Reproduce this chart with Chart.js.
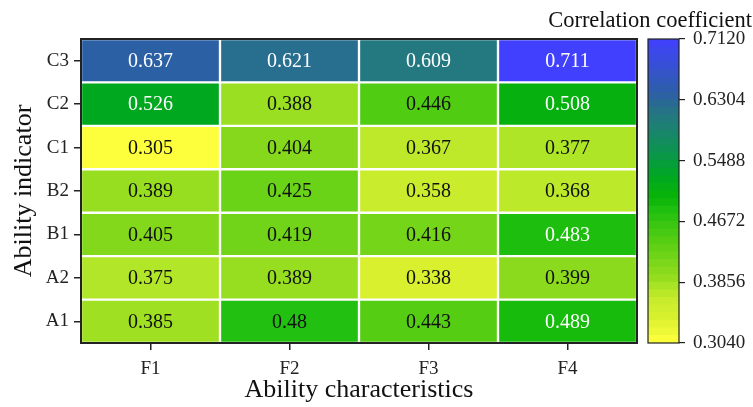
<!DOCTYPE html>
<html>
<head>
<meta charset="utf-8">
<script src="https://cdn.jsdelivr.net/npm/chart.js@4.4.1/dist/chart.umd.min.js"></script>
<style>
html,body{margin:0;padding:0;background:#fff;}
#wrap{position:relative;width:753px;height:407px;}
#main{position:absolute;left:0;top:0;}
#cbar{position:absolute;left:600px;top:0;}
</style>
</head>
<body>
<div id="wrap">
<canvas id="main" width="753" height="407"></canvas>
<canvas id="cbar" width="153" height="407"></canvas>
</div>
<script>
// ---- data ----
const rowLabels = ['A1','A2','B1','B2','C1','C2','C3'];
const colLabels = ['F1','F2','F3','F4'];
const rowA1 = [0.385, 0.48, 0.443, 0.489];
const rowA2 = [0.375, 0.389, 0.338, 0.399];
const rowB1 = [0.405, 0.419, 0.416, 0.483];
const rowB2 = [0.389, 0.425, 0.358, 0.368];
const rowC1 = [0.305, 0.404, 0.367, 0.377];
const rowC2 = [0.526, 0.388, 0.446, 0.508];
const rowC3 = [0.637, 0.621, 0.609, 0.711];
const rowValues = [rowA1, rowA2, rowB1, rowB2, rowC1, rowC2, rowC3];
const cbarMin = 0.304;
const cbarMax = 0.712;
const cbarTicks = [0.3040, 0.3856, 0.4672, 0.5488, 0.6304, 0.7120];
const cbarTitle = 'Correlation coefficient';
const xTitle = 'Ability characteristics';
const yTitle = 'Ability indicator';

// ---- colour map ----
const stops = [
  [0.304,'#ffff3c'],[0.338,'#d8f02e'],[0.360,'#c8ec2c'],[0.375,'#b2e628'],
  [0.389,'#98de20'],[0.405,'#84d81c'],[0.420,'#70d418'],[0.446,'#50cc12'],
  [0.480,'#22c010'],[0.500,'#08b408'],[0.526,'#00a820'],[0.560,'#0c9450'],
  [0.609,'#247880'],[0.637,'#2c60a4'],[0.712,'#4040ff']
];
function hex2rgb(h){return [1,3,5].map(i=>parseInt(h.substr(i,2),16));}
function cmap(v){
  if(v<=stops[0][0]) return stops[0][1];
  for(let i=1;i<stops.length;i++){
    if(v<=stops[i][0]){
      const [a,ca]=stops[i-1],[b,cb]=stops[i];
      const t=(v-a)/(b-a), A=hex2rgb(ca), B=hex2rgb(cb);
      const c=A.map((x,k)=>Math.round(x+(B[k]-x)*t));
      return `rgb(${c[0]},${c[1]},${c[2]})`;
    }
  }
  return stops[stops.length-1][1];
}

const SERIF = "'Liberation Serif','Times New Roman',serif";
const DARK = '#222';

const datasets = rowValues.map((vals, r) => ({
  label: rowLabels[r],
  data: vals.map(() => [r - 0.5, r + 0.5]),
  backgroundColor: vals.map(cmap),
  borderColor: '#ffffff',
  borderWidth: 1.5,
  borderSkipped: false,
  barPercentage: 1,
  categoryPercentage: 1,
  grouped: false
}));

const cellText = {
  id: 'cellText',
  afterDatasetsDraw(chart){
    const ctx = chart.ctx;
    ctx.save();
    ctx.font = `20px ${SERIF}`;
    ctx.textAlign = 'center';
    ctx.textBaseline = 'middle';
    chart.data.datasets.forEach((ds, r) => {
      chart.getDatasetMeta(r).data.forEach((el, c) => {
        const v = rowValues[r][c];
        ctx.fillStyle = v > 0.481 ? '#ffffff' : '#111111';
        ctx.fillText(String(v), el.x, (el.y + el.base) / 2 + 1);
      });
    });
    ctx.restore();
  }
};
const frame = {
  id: 'frame',
  afterDraw(chart){
    const {ctx, chartArea:a} = chart;
    ctx.save();
    ctx.strokeStyle = DARK;
    ctx.lineWidth = chart.canvas.id === 'main' ? 2 : 1.2;
    ctx.strokeRect(a.left, a.top, a.right - a.left, a.bottom - a.top);
    ctx.restore();
  }
};
const cbTitle = {
  id: 'cbTitle',
  afterDraw(chart){
    const ctx = chart.ctx;
    ctx.save();
    ctx.font = `22.5px ${SERIF}`;
    ctx.fillStyle = '#111';
    ctx.textAlign = 'right';
    ctx.textBaseline = 'alphabetic';
    ctx.fillText(cbarTitle, 752, 27);
    ctx.restore();
  }
};

new Chart(document.getElementById('main'), {
  type: 'bar',
  data: { labels: colLabels, datasets },
  options: {
    responsive: false,
    devicePixelRatio: 1,
    animation: false,
    layout: { padding: { top: 39, right: 116, left: 0, bottom: 0 } },
    plugins: { legend: { display: false }, tooltip: { enabled: false } },
    scales: {
      x: {
        type: 'category',
        afterFit(s){ s.height = 64; },
        grid: { offset: false, drawOnChartArea: false, tickLength: 7, color: DARK, lineWidth: 1.5 },
        border: { display: false },
        ticks: { color: '#222', font: { family: SERIF, size: 19 }, padding: 8 },
        title: { display: true, text: xTitle, color: '#111', font: { family: SERIF, size: 26 }, padding: { top: 0, bottom: 1 } }
      },
      y: {
        type: 'linear',
        min: -0.5, max: 6.5,
        afterFit(s){ s.width = 81; },
        afterBuildTicks(s){ s.ticks = rowLabels.map((_, i) => ({ value: i })); },
        grid: { drawOnChartArea: false, tickLength: 7, color: DARK, lineWidth: 1.5 },
        border: { display: false },
        ticks: { color: '#222', font: { family: SERIF, size: 19 }, padding: 5,
                 callback: (v) => rowLabels[v] },
        title: { display: true, text: yTitle, color: '#111', font: { family: SERIF, size: 26 }, padding: { top: 9, bottom: 0 } }
      }
    }
  },
  plugins: [cellText, frame, cbTitle]
});

// ---- colour bar ----
const nBands = 40;
const bandEdges = Array.from({length: nBands + 1}, (_, i) => cbarMin + (cbarMax - cbarMin) * i / nBands);
const cbDatasets = bandEdges.slice(0, -1).map((lo, i) => ({
  data: [[lo, bandEdges[i + 1]]],
  backgroundColor: cmap((lo + bandEdges[i + 1]) / 2),
  borderWidth: 0,
  barPercentage: 1,
  categoryPercentage: 1,
  grouped: false
}));
new Chart(document.getElementById('cbar'), {
  type: 'bar',
  data: { labels: ['cb'], datasets: cbDatasets },
  options: {
    responsive: false,
    devicePixelRatio: 1,
    animation: false,
    layout: { padding: { top: 39, bottom: 64, left: 48, right: 0 } },
    plugins: { legend: { display: false }, tooltip: { enabled: false } },
    scales: {
      x: { display: false },
      y: {
        type: 'linear',
        position: 'right',
        min: cbarMin, max: cbarMax,
        afterFit(s){ s.width = 74; },
        afterBuildTicks(s){ s.ticks = cbarTicks.map(v => ({ value: v })); },
        grid: { drawOnChartArea: false, tickLength: 6, color: DARK, lineWidth: 1.2 },
        border: { display: false },
        ticks: { color: '#222', font: { family: SERIF, size: 19 }, padding: 8,
                 callback: (v) => Number(v).toFixed(4) }
      }
    }
  },
  plugins: [frame]
});
</script>
</body>
</html>
